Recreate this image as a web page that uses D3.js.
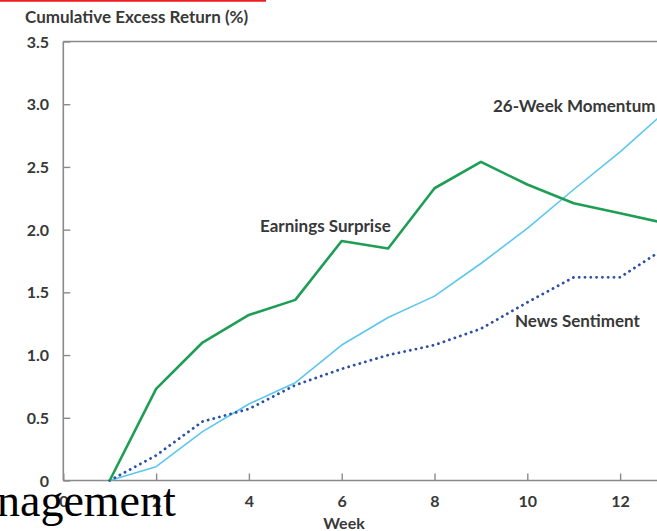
<!DOCTYPE html>
<html>
<head>
<meta charset="utf-8">
<script src="https://cdn.jsdelivr.net/npm/d3@7"></script>
<style>
  html, body { margin: 0; padding: 0; background: #fff; }
  svg { display: block; }
</style>
</head>
<body>
<svg id="chart" width="657" height="531"></svg>
<script>
// Weeks after the signal date
const weeks = [1, 2, 3, 4, 5, 6, 7, 8, 9, 10, 11, 12, 13];

// Cumulative excess return (%) per strategy
const earningsSurprise = [0, 0.73, 1.10, 1.32, 1.44, 1.91, 1.85, 2.33, 2.54, 2.36, 2.21, 2.13, 2.05];
const momentum26w      = [0, 0.11, 0.39, 0.61, 0.78, 1.08, 1.30, 1.47, 1.73, 2.01, 2.32, 2.62, 2.95];
const newsSentiment    = [0, 0.20, 0.47, 0.57, 0.76, 0.89, 1.00, 1.08, 1.21, 1.42, 1.62, 1.62, 1.86];

// Axis ticks
const xTicks = [0, 2, 4, 6, 8, 10, 12];
const yTicks = [0, 0.5, 1.0, 1.5, 2.0, 2.5, 3.0, 3.5];
const yTickLabels = ["0", "0.5", "1.0", "1.5", "2.0", "2.5", "3.0", "3.5"];

const svg = d3.select("#chart");
const plotLeft = 63.3, plotBottom = 480.5, plotTop = 41.5;

const x = d3.scaleLinear().domain([0, 2]).range([plotLeft, plotLeft + 92.8]);
const y = d3.scaleLinear().domain([0, 3.5]).range([plotBottom, plotTop]);

const textColor = "#383838";
const axisColor = "#8a8a8a";
const font = "Lato, 'Open Sans', sans-serif";

// red rule at the very top
svg.append("line")
  .attr("x1", 0).attr("x2", 266).attr("y1", 0.5).attr("y2", 0.5)
  .attr("stroke", "#ee1c1c").attr("stroke-width", 2.5);

// axis title
svg.append("text")
  .attr("x", 25).attr("y", 23)
  .attr("font-family", font).attr("font-weight", 700).attr("font-size", 17)
  .attr("fill", textColor)
  .text("Cumulative Excess Return (%)");

// frame: left axis, top line, bottom axis
const frame = svg.append("g").attr("stroke", axisColor).attr("stroke-width", 1.6).attr("fill", "none");
frame.append("line").attr("x1", plotLeft).attr("x2", plotLeft).attr("y1", y(3.5)).attr("y2", y(0));
frame.append("line").attr("x1", plotLeft).attr("x2", 657).attr("y1", y(3.5)).attr("y2", y(3.5));
frame.append("line").attr("x1", plotLeft).attr("x2", 657).attr("y1", y(0)).attr("y2", y(0));

// y ticks (inward) and labels
const yAxis = d3.axisRight(y).tickValues(yTicks).tickSize(7)
  .tickFormat((d, i) => yTickLabels[i]);
const gy = svg.append("g").attr("transform", `translate(${plotLeft},0)`).call(yAxis);
gy.select(".domain").remove();
gy.selectAll(".tick line").attr("stroke", axisColor).attr("stroke-width", 1.4);
gy.selectAll(".tick text")
  .attr("x", 49 - plotLeft).attr("text-anchor", "end").attr("dy", "0.35em")
  .attr("font-family", font).attr("font-weight", 700).attr("font-size", 16)
  .attr("fill", textColor);

// x ticks (inward) and labels
const xAxis = d3.axisTop(x).tickValues(xTicks).tickSize(7).tickFormat(d3.format("d"));
const gx = svg.append("g").attr("transform", `translate(0,${plotBottom})`).call(xAxis);
gx.select(".domain").remove();
gx.selectAll(".tick line").attr("stroke", axisColor).attr("stroke-width", 1.4);
gx.selectAll(".tick text")
  .attr("y", 26).attr("dy", 0)
  .attr("font-family", font).attr("font-weight", 700).attr("font-size", 16)
  .attr("fill", textColor);

svg.append("text")
  .attr("x", 344).attr("y", 529).attr("text-anchor", "middle")
  .attr("font-family", font).attr("font-weight", 700).attr("font-size", 16)
  .attr("fill", textColor).text("Week");

// series lines
const line = d3.line().x((d, i) => x(weeks[i])).y(d => y(d));

svg.append("path").datum(momentum26w)
  .attr("d", line).attr("fill", "none")
  .attr("stroke", "#5cc6ef").attr("stroke-width", 1.6).attr("stroke-linejoin", "round");

svg.append("path").datum(newsSentiment)
  .attr("d", line).attr("fill", "none")
  .attr("stroke", "#2a4fa6").attr("stroke-width", 2.8)
  .attr("stroke-linecap", "round").attr("stroke-dasharray", "0.1 5.7");

svg.append("path").datum(earningsSurprise)
  .attr("d", line).attr("fill", "none")
  .attr("stroke", "#1e9e55").attr("stroke-width", 2.6).attr("stroke-linejoin", "round");

// series labels
const labels = [
  { text: "Earnings Surprise", x: 260, y: 232 },
  { text: "26-Week Momentum", x: 493, y: 112 },
  { text: "News Sentiment", x: 515, y: 327 }
];
svg.selectAll("text.series-label").data(labels).enter().append("text")
  .attr("class", "series-label")
  .attr("x", d => d.x).attr("y", d => d.y)
  .attr("font-family", font).attr("font-weight", 700).attr("font-size", 17)
  .attr("fill", textColor).text(d => d.text);

// overlapping heading text at the bottom
svg.append("text")
  .attr("x", -3).attr("y", 516)
  .attr("font-family", "'Liberation Serif', 'DejaVu Serif', serif")
  .attr("font-size", 46).attr("fill", "#000")
  .text("nagement");
</script>
</body>
</html>
